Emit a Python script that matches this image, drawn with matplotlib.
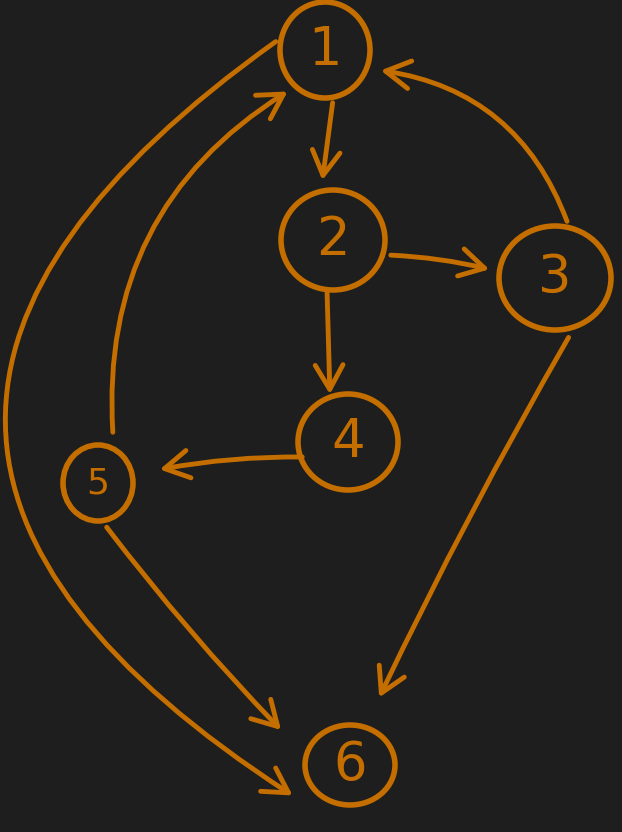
import matplotlib
matplotlib.use("Agg")
import matplotlib.pyplot as plt
from matplotlib.patches import Ellipse, FancyArrowPatch

labels = ["1", "2", "3", "4", "5", "6"]
node_x = [325, 333, 555, 348, 98, 350]
node_y = [50, 240, 278, 442, 483, 765]
node_rx = [45, 52, 56, 50, 35, 45]
node_ry = [48, 50, 52, 48, 38, 40]
edge_src = ["1", "2", "3", "2", "4", "5", "5", "1", "3"]
edge_dst = ["2", "3", "1", "4", "5", "1", "6", "6", "6"]
edge_start = [(333, 100), (388, 255), (568, 224), (327, 290), (305, 457), (113, 435), (105, 525), (278, 40), (570, 335)]
edge_end = [(322, 183), (492, 270), (378, 70), (330, 397), (157, 470), (290, 90), (283, 732), (295, 797), (378, 700)]
edge_rad = [0, -0.05, 0.3, 0, 0.05, -0.3, 0.03, 0.74, 0.02]

col = "#c46e00"
bg = "#1e1e1e"
fig = plt.figure(figsize=(6.22, 8.32), dpi=100, facecolor=bg)
ax = fig.add_axes([0, 0, 1, 1])
ax.set_facecolor(bg)
ax.set_xlim(0, 622)
ax.set_ylim(832, 0)
ax.axis("off")

for lab, x, y, rx, ry in zip(labels, node_x, node_y, node_rx, node_ry):
    ax.add_patch(Ellipse((x, y), 2 * rx, 2 * ry, fill=False, ec=col, lw=4))
    ax.text(x, y, lab, color=col, fontsize=38 if rx > 40 else 26, ha="center", va="center",
            family="DejaVu Sans")

for s, e, r in zip(edge_start, edge_end, edge_rad):
    ax.add_patch(FancyArrowPatch(s, e, connectionstyle=f"arc3,rad={r}",
                                 arrowstyle="->,head_length=7,head_width=4",
                                 color=col, lw=3.5, mutation_scale=2.5,
                                 capstyle="round", joinstyle="round"))

fig.savefig("out.png", dpi=100, facecolor=bg)
